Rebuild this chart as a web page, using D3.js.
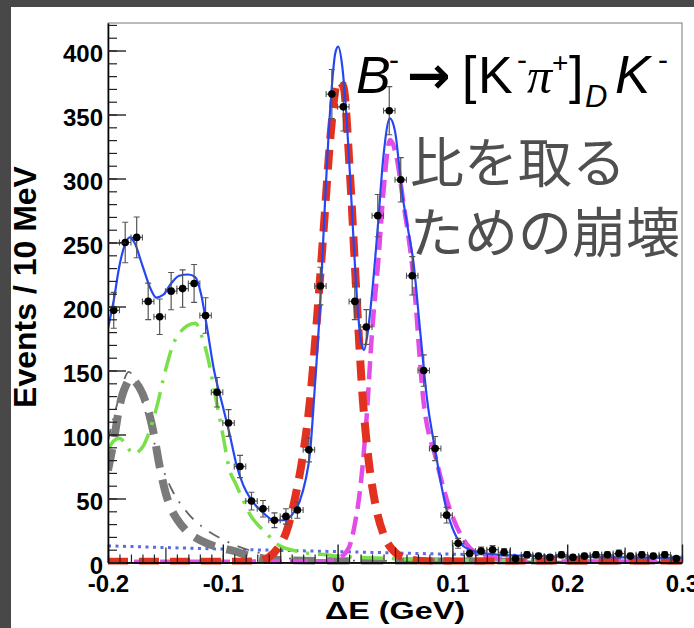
<!DOCTYPE html>
<html>
<head>
<meta charset="utf-8">
<script src="https://cdn.jsdelivr.net/npm/d3@7"></script>
<style>
  body { margin: 0; background: #484848; }
  svg { display: block; }
</style>
</head>
<body>
<svg id="chart" width="694" height="628"></svg>
<script>
// histogram bins (10 MeV) : centre and content
var binCenters = [-0.195,-0.185,-0.175,-0.165,-0.155,-0.145,-0.135,-0.125,-0.115,-0.105,
                  -0.095,-0.085,-0.075,-0.065,-0.055,-0.045,-0.035,-0.025,-0.015,-0.005,
                   0.005, 0.015, 0.025, 0.035, 0.045, 0.055, 0.065, 0.075, 0.085, 0.095,
                   0.105, 0.115, 0.125, 0.135, 0.145, 0.155, 0.165, 0.175, 0.185, 0.195,
                   0.205, 0.215, 0.225, 0.235, 0.245, 0.255, 0.265, 0.275, 0.285, 0.295]
var binCounts = [197,250,254,204,192,212,214,218,193,133,
                 109, 75, 48, 42, 33, 36, 41, 88,216,366,
                 356,204,184,271,353,299,224,150, 89, 37,
                  15,  7,  9, 10,  8,  3,  6,  5,  4,  6,
                   4,  5,  6,  6,  7,  5,  6,  5,  6,  3]

// fit components: [dE, events]
var totalFit = [[-0.2,183],[-0.195,205],[-0.19,232],[-0.185,249],[-0.181,254],[-0.177,250],[-0.17,232],
  [-0.163,214],[-0.158,207],[-0.152,209],[-0.145,218],[-0.138,224],[-0.13,225],[-0.124,223],[-0.119,210],
  [-0.114,185],[-0.108,152],[-0.1,122],[-0.094,100],[-0.088,76],[-0.082,60],[-0.076,50],[-0.065,39],
  [-0.055,33],[-0.047,33],[-0.04,37],[-0.033,48],[-0.028,64],[-0.024,86],[-0.02,135],[-0.015,205],
  [-0.011,281],[-0.006,360],[-0.002,398],[0.0005,403],[0.004,388],[0.008,345],[0.011,300],[0.014,250],
  [0.017,205],[0.02,175],[0.023,166],[0.026,178],[0.03,210],[0.035,262],[0.04,318],[0.0455,347],
  [0.05,337],[0.056,290],[0.061,262],[0.066,235],[0.072,180],[0.078,127],[0.085,88],[0.09,62],
  [0.095,41],[0.1,27],[0.107,15],[0.115,10],[0.13,7],[0.15,5.5],[0.2,4.5],[0.25,4],[0.3,3.5]]
var signalDK = [[-0.2,0.5],[-0.1,0.5],[-0.07,1],[-0.06,4],[-0.05,14],[-0.045,23],[-0.036,55],[-0.03,85],
  [-0.024,127],[-0.018,190],[-0.012,262],[-0.006,335],[0,376],[0.005,372],[0.011,300],[0.017,200],
  [0.022,127],[0.027,80],[0.033,45],[0.04,22],[0.05,8],[0.06,3],[0.08,1],[0.3,0.5]]
var peakDpi = [[-0.2,0.5],[-0.01,1],[0,3],[0.01,12],[0.015,30],[0.02,60],[0.025,110],[0.03,180],
  [0.0355,236],[0.04,290],[0.0457,330],[0.051,318],[0.057,283],[0.066,223],[0.0747,127],[0.086,80],
  [0.098,41],[0.11,17.6],[0.12,8],[0.14,3],[0.17,1],[0.3,0.5]]
var bkgGreen = [[-0.2,88],[-0.195,95],[-0.19,97],[-0.185,93],[-0.178,85],[-0.17,90],[-0.163,105],
  [-0.158,120],[-0.15,150],[-0.143,171],[-0.137,180],[-0.131,185],[-0.124,187],[-0.118,176],[-0.113,160],
  [-0.108,137],[-0.1,100],[-0.094,72],[-0.089,62],[-0.082,48],[-0.076,37],[-0.069,29],[-0.062,23],
  [-0.055,16],[-0.048,12],[-0.036,9],[-0.024,7],[-0.01,6],[0,5],[0.05,3],[0.1,2],[0.2,1],[0.3,1]]
var bkgGrey = [[-0.2,72],[-0.195,95],[-0.19,122],[-0.184,139],[-0.18,144],[-0.176,141],[-0.17,132],
  [-0.166,122],[-0.16,100],[-0.155,75],[-0.15,55],[-0.145,42],[-0.14,34],[-0.133,26],[-0.123,19],
  [-0.114,15],[-0.1,11],[-0.09,9],[-0.08,6],[-0.07,4],[-0.06,2.5],[-0.04,1.5],[0,1],[0.3,0.5]]
var bkgGreyThin = [[-0.2,95],[-0.19,130],[-0.182,149],[-0.175,140],[-0.165,110],[-0.155,80],[-0.145,58],
  [-0.13,38],[-0.115,26],[-0.1,18],[-0.085,12],[-0.07,8],[-0.055,5],[-0.04,3],[0,1.5],[0.3,0.5]]
var bkgComb = [[-0.2,13],[-0.1,10.5],[0,8.5],[0.1,6.5],[0.2,5],[0.3,4]]

var xTickValues = [-0.2,-0.1,0,0.1,0.2,0.3]
var xTickLabels = ["-0.2","-0.1","0","0.1","0.2","0.3"]
var yTickValues = [0,50,100,150,200,250,300,350,400]

var margin = {top: 23, right: 12, bottom: 65.5, left: 108},
    width = 694 - margin.left - margin.right,
    height = 628 - margin.top - margin.bottom

var svg = d3.select("#chart")

// white page area inside the dark border
svg.append("rect").attr("x", 11).attr("y", 7).attr("width", 694 - 11).attr("height", 628 - 7).attr("fill", "#fff")

var x = d3.scaleLinear().domain([-0.2, 0.3]).range([0, width])
var y = d3.scaleLinear().domain([0, 421.5]).range([height, 0])

var chart = svg.append("g").attr("transform", "translate(" + margin.left + "," + margin.top + ")")

chart.append("clipPath").attr("id", "plotclip")
    .append("rect").attr("x", 0).attr("y", -2).attr("width", width).attr("height", height + 4)

// frame
chart.append("rect").attr("width", width).attr("height", height)
    .attr("fill", "none").attr("stroke", "#777").attr("stroke-width", 1)

var line = d3.line()
    .x(function(d) { return x(d[0]) })
    .y(function(d) { return y(d[1]) })
    .curve(d3.curveMonotoneX)

var curves = chart.append("g").attr("clip-path", "url(#plotclip)")

curves.append("path").datum(bkgComb).attr("d", line)
    .attr("fill", "none").attr("stroke", "#5b6be0").attr("stroke-width", 3).attr("stroke-dasharray", "3,4.5")
curves.append("path").datum(bkgGreyThin).attr("d", line)
    .attr("fill", "none").attr("stroke", "#666").attr("stroke-width", 1.8).attr("stroke-dasharray", "12,9,2,9")
curves.append("path").datum(bkgGrey).attr("d", line)
    .attr("fill", "none").attr("stroke", "#7a7a7a").attr("stroke-width", 8).attr("stroke-dasharray", "22,12")
curves.append("path").datum(bkgGreen).attr("d", line)
    .attr("fill", "none").attr("stroke", "#78e048").attr("stroke-width", 3.5).attr("stroke-dasharray", "22,9,3,9")
curves.append("path").datum(peakDpi).attr("d", line)
    .attr("fill", "none").attr("stroke", "#e34ce6").attr("stroke-width", 4.5).attr("stroke-dasharray", "18,8")
curves.append("path").datum(signalDK).attr("d", line)
    .attr("fill", "none").attr("stroke", "#e2321f").attr("stroke-width", 8).attr("stroke-dasharray", "20,11")
curves.append("path").datum(totalFit).attr("d", line)
    .attr("fill", "none").attr("stroke", "#2447f5").attr("stroke-width", 2.2)

// data points with errors
var points = d3.zip(binCenters, binCounts)
var pts = chart.append("g").attr("clip-path", "url(#plotclip)")
    .selectAll(".pt").data(points).enter().append("g").attr("class", "pt")

pts.append("line")
    .attr("x1", function(d) { return x(d[0]) }).attr("x2", function(d) { return x(d[0]) })
    .attr("y1", function(d) { return y(d[1] + Math.sqrt(d[1])) })
    .attr("y2", function(d) { return y(Math.max(0, d[1] - Math.sqrt(d[1]))) })
    .attr("stroke", "#555").attr("stroke-width", 1.2)
pts.append("line")
    .attr("x1", function(d) { return x(d[0] - 0.005) }).attr("x2", function(d) { return x(d[0] + 0.005) })
    .attr("y1", function(d) { return y(d[1]) }).attr("y2", function(d) { return y(d[1]) })
    .attr("stroke", "#555").attr("stroke-width", 1.2)
pts.append("path")   // caps
    .attr("d", function(d) {
        var cx = x(d[0]), t = y(d[1] + Math.sqrt(d[1])), b = y(Math.max(0, d[1] - Math.sqrt(d[1]))), cy = y(d[1])
        var l = x(d[0] - 0.005), r = x(d[0] + 0.005)
        return "M" + (cx - 3) + "," + t + "H" + (cx + 3) + "M" + (cx - 3) + "," + b + "H" + (cx + 3) +
               "M" + l + "," + (cy - 3) + "V" + (cy + 3) + "M" + r + "," + (cy - 3) + "V" + (cy + 3)
    })
    .attr("stroke", "#555").attr("stroke-width", 1.1).attr("fill", "none")
pts.append("circle")
    .attr("cx", function(d) { return x(d[0]) }).attr("cy", function(d) { return y(d[1]) })
    .attr("r", 3.8).attr("fill", "#000")

// axes - ticks drawn inside, ROOT style
var tickFont = "bold 24px 'Liberation Sans', Arial, sans-serif"

var xMinor = d3.range(-0.2, 0.3001, 0.01).map(function(v) { return Math.round(v * 100) / 100 })
chart.append("g").attr("transform", "translate(0," + height + ")")
    .call(d3.axisBottom(x).tickValues(xMinor).tickSizeInner(-8).tickSizeOuter(0).tickFormat(""))
    .call(function(g) { g.selectAll("line").attr("stroke", "#222").attr("stroke-width", 1.2)
        .filter(function(d) { return Math.abs(Math.round(d * 100) % 10) === 5 }).attr("y2", -15) })
var xAxis = chart.append("g").attr("transform", "translate(0," + height + ")")
    .call(d3.axisBottom(x).tickValues(xTickValues).tickSizeInner(-18).tickSizeOuter(0).tickPadding(14)
        .tickFormat(function(d, i) { return xTickLabels[i] }))
xAxis.select(".domain").attr("stroke", "#000").attr("stroke-width", 1.6)
xAxis.selectAll("line").attr("stroke", "#222").attr("stroke-width", 1.4)
xAxis.selectAll("text").style("font", tickFont).attr("fill", "#000").attr("dy", "0.66em")

var yMinor = d3.range(0, 421, 10)
chart.append("g")
    .call(d3.axisLeft(y).tickValues(yMinor).tickSizeInner(-9).tickSizeOuter(0).tickFormat(""))
    .call(function(g) { g.selectAll("line").attr("stroke", "#222").attr("stroke-width", 1.2); g.select(".domain").remove() })
var yAxis = chart.append("g")
    .call(d3.axisLeft(y).tickValues(yTickValues).tickSizeInner(-18).tickSizeOuter(0).tickPadding(5))
yAxis.select(".domain").attr("stroke", "#000").attr("stroke-width", 1.6)
yAxis.selectAll("line").attr("stroke", "#222").attr("stroke-width", 1.4)
yAxis.selectAll("text").style("font", tickFont).attr("fill", "#000").attr("dy", "0.45em")

// axis titles
svg.append("text")
    .attr("transform", "translate(36,287) rotate(-90)")
    .attr("text-anchor", "middle")
    .style("font", "bold 32px 'Liberation Sans', Arial, sans-serif")
    .text("Events / 10 MeV")
svg.append("text")
    .attr("x", 325).attr("y", 619)
    .attr("textLength", 140).attr("lengthAdjust", "spacingAndGlyphs")
    .style("font", "bold 24px 'Liberation Sans', Arial, sans-serif")
    .text("\u0394E (GeV)")

// decay label
var formula = [
    {t: "B", x: 356, y: 93, size: 52, italic: true},
    {t: "-", x: 389, y: 70, size: 30},
    {t: "\u2192", x: 407, y: 93, size: 52, bold: true, font: "'DejaVu Sans'"},
    {t: "[", x: 462, y: 93, size: 52},
    {t: "K", x: 478, y: 93, size: 52},
    {t: "-", x: 517, y: 70, size: 30},
    {t: "\u03c0", x: 527, y: 93, size: 50, italic: true, font: "'Liberation Serif'"},
    {t: "+", x: 552, y: 72, size: 28},
    {t: "]", x: 569, y: 93, size: 52},
    {t: "D", x: 585, y: 107, size: 31, italic: true},
    {t: "K", x: 615, y: 93, size: 53, italic: true},
    {t: "-", x: 658, y: 70, size: 30}
]
svg.selectAll(".formula").data(formula).enter().append("text")
    .attr("class", "formula")
    .attr("x", function(d) { return d.x }).attr("y", function(d) { return d.y })
    .style("font-family", function(d) { return d.font || "'Liberation Sans', Arial, sans-serif" })
    .style("font-size", function(d) { return d.size + "px" })
    .style("font-style", function(d) { return d.italic ? "italic" : "normal" })
    .style("font-weight", function(d) { return d.bold ? "bold" : "normal" })
    .text(function(d) { return d.t })

var note = ["比を取る", "ための崩壊"]
svg.selectAll(".note").data(note).enter().append("text")
    .attr("class", "note")
    .attr("x", 410).attr("y", function(d, i) { return 183 + i * 70 })
    .style("font", "54px 'Noto Sans CJK JP'")
    .attr("fill", "#4f4f4f")
    .text(function(d) { return d })
</script>
</body>
</html>
